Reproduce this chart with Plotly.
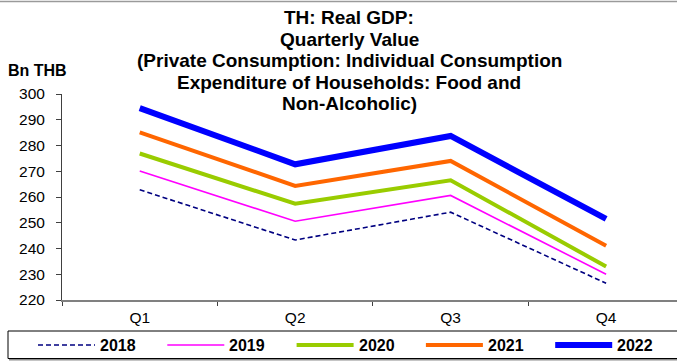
import plotly.graph_objects as go

# Quarterly real GDP, private consumption on food and non-alcoholic beverages (Bn THB)
quarters = ["Q1", "Q2", "Q3", "Q4"]
years = ["2018", "2019", "2020", "2021", "2022"]
gdp_2018 = [262.8, 243.3, 254.1, 226.5]
gdp_2019 = [270.1, 250.6, 260.6, 230.0]
gdp_2020 = [276.9, 257.4, 266.5, 233.0]
gdp_2021 = [285.1, 264.3, 274.0, 241.1]
gdp_2022 = [294.5, 272.7, 283.7, 251.5]
y_ticks = list(range(220, 301, 10))

title_lines = [
    "TH: Real GDP:",
    "Quarterly Value",
    "(Private Consumption: Individual Consumption",
    "Expenditure of Households: Food and",
    "Non-Alcoholic)",
]

series = [gdp_2018, gdp_2019, gdp_2020, gdp_2021, gdp_2022]
styles = [
    dict(color="#000080", width=1.6, dash="5px,3px"),
    dict(color="#FF00FF", width=1.6, dash="solid"),
    dict(color="#99CC00", width=4, dash="solid"),
    dict(color="#FF6600", width=4, dash="solid"),
    dict(color="#0000FF", width=6, dash="solid"),
]

W, H = 677, 361
ML, MR, MT, MB = 62, 0, 94, 61
FONT = "Liberation Sans, Arial, sans-serif"


def px_x(px):
    return (px - ML) / (W - ML - MR)


def px_y(py):
    return (H - MB - py) / (H - MT - MB)


fig = go.Figure()
for name, vals, st in zip(years, series, styles):
    fig.add_trace(go.Scatter(
        x=quarters, y=vals, mode="lines", name=name,
        line=dict(color=st["color"], width=st["width"], dash=st["dash"]),
    ))

annotations = []
for i, line in enumerate(title_lines):
    annotations.append(dict(
        text=f"<b>{line}</b>", xref="paper", yref="paper",
        x=px_x(349), y=px_y(18 + i * 21.4), xanchor="center", yanchor="middle",
        showarrow=False, font=dict(family=FONT, size=19, color="#000000"),
    ))
annotations.append(dict(
    text="<b>Bn THB</b>", xref="paper", yref="paper",
    x=px_x(6), y=px_y(70), xanchor="left", yanchor="middle",
    showarrow=False, font=dict(family=FONT, size=16, color="#000000"),
))

shapes = [
    # frame line along the top edge
    dict(type="line", xref="paper", yref="paper", x0=px_x(0), x1=px_x(W),
         y0=px_y(1.5), y1=px_y(1.5), line=dict(color="#9a9a9a", width=1.5)),
    # legend box with a grey shadow along its bottom
    dict(type="line", xref="paper", yref="paper", x0=px_x(9), x1=px_x(W + 5),
         y0=px_y(359.5), y1=px_y(359.5), line=dict(color="#8c8c8c", width=2)),
    dict(type="rect", xref="paper", yref="paper", x0=px_x(8), x1=px_x(W + 5),
         y0=px_y(358.5), y1=px_y(331), line=dict(color="#000000", width=1),
         fillcolor="rgba(0,0,0,0)"),
]

# legend entries: line sample followed by bold year label
for i, (name, st) in enumerate(zip(years, styles)):
    x0 = 38 + i * 129.3
    shapes.append(dict(
        type="line", xref="paper", yref="paper", x0=px_x(x0), x1=px_x(x0 + 57),
        y0=px_y(345), y1=px_y(345),
        line=dict(color=st["color"], width=st["width"], dash=st["dash"]),
    ))
    annotations.append(dict(
        text=f"<b>{name}</b>", xref="paper", yref="paper",
        x=px_x(x0 + 60), y=px_y(345.5), xanchor="left", yanchor="middle",
        showarrow=False, font=dict(family=FONT, size=16, color="#000000"),
    ))

fig.update_layout(
    width=W, height=H,
    margin=dict(l=ML, r=MR, t=MT, b=MB, pad=0),
    paper_bgcolor="#FFFFFF", plot_bgcolor="#FFFFFF",
    showlegend=False,
    font=dict(family=FONT, size=15, color="#000000"),
    annotations=annotations, shapes=shapes,
    xaxis=dict(
        type="category", categoryorder="array", categoryarray=quarters,
        range=[-0.5, 3.456], tickson="boundaries",
        showgrid=False, zeroline=False,
        showline=True, linecolor="#808080", linewidth=1.5,
        ticks="outside", ticklen=4, tickcolor="#404040", tickwidth=1,
        ticklabelstandoff=3,
        tickfont=dict(family=FONT, size=15.5, color="#000000"),
    ),
    yaxis=dict(
        range=[220, 300], tickvals=y_ticks,
        showgrid=False, zeroline=False,
        showline=True, linecolor="#404040", linewidth=1,
        ticks="outside", ticklen=5, tickcolor="#404040", tickwidth=1,
        ticklabelstandoff=8,
        tickfont=dict(family=FONT, size=15.5, color="#000000"),
    ),
)

fig.write_html("out.html")
